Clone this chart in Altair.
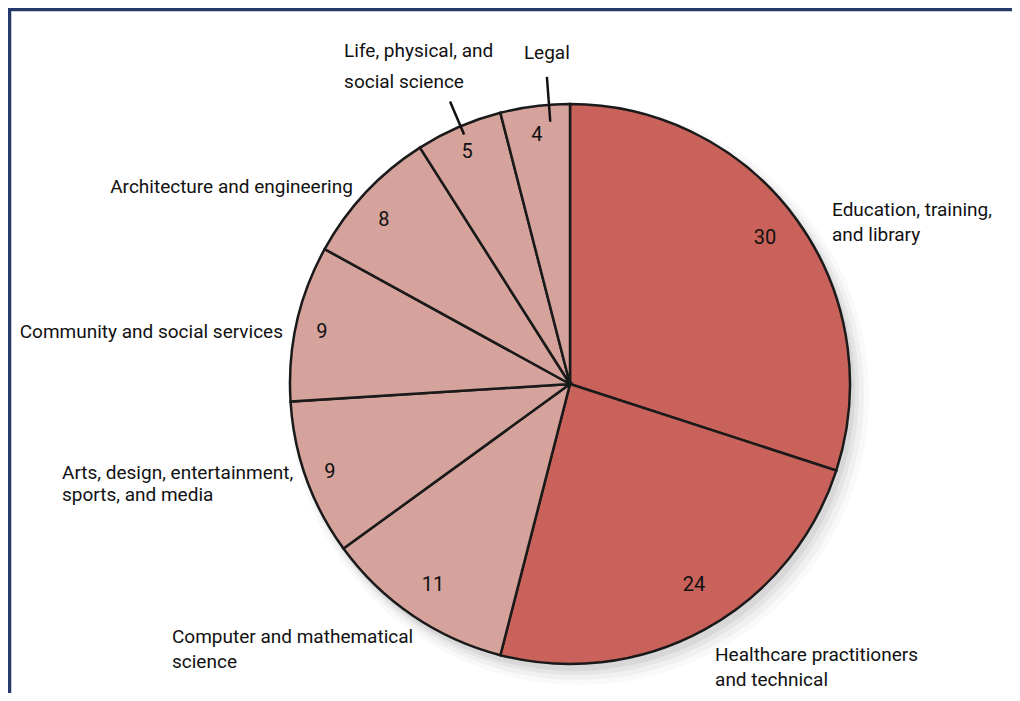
import math
import altair as alt
import pandas as pd

# ---------------- data ----------------
categories = [
    "Education, training, and library",
    "Healthcare practitioners and technical",
    "Computer and mathematical science",
    "Arts, design, entertainment, sports, and media",
    "Community and social services",
    "Architecture and engineering",
    "Life, physical, and social science",
    "Legal",
]
label_lines = [
    ["Education, training,", "and library"],
    ["Healthcare practitioners", "and technical"],
    ["Computer and mathematical", "science"],
    ["Arts, design, entertainment,", "sports, and media"],
    ["Community and social services"],
    ["Architecture and engineering"],
    ["Life, physical, and", "social science"],
    ["Legal"],
]
values = [30, 24, 11, 9, 9, 8, 5, 4]

# ---------------- styles / layout ----------------
DARK = "#c8625a"
LIGHT = "#d5a39b"
slice_colors = [DARK, DARK, LIGHT, LIGHT, LIGHT, LIGHT, LIGHT, LIGHT]
FONT = "Roboto, Liberation Sans Narrow, sans-serif"
FS = 19
NUM_FS = 20
W, H = 1004, 685
CX, CY = 562, 376          # pie centre (chart coords)
R = 280                    # pie radius

# value labels: radius, angular offset from slice middle (deg)
num_layout = [
    (243.6, -0.8), (236.0, -2.9), (243.0, 0.1), (255.6, -0.3),
    (253.4, -0.8), (248.0, -1.8), (253.8, -0.5), (251.2, -0.35),
]
# category labels: radius, angular offset from slice middle (deg), align, line height
label_layout = [
    (307.8, 4.35, "left", 25),
    (318.4, 1.7, "left", 25),
    (478.4, 22.1, "left", 25),
    (517.7, 8.7, "left", 22),
    (291.7, -2.3, "right", 25),
    (293.1, -1.0, "right", 25),
    (390.0, -12.0, "left", 31),
    (331.8, 3.2, "center", 25),
]
# leader lines: slice index, inner radius, outer radius, angular offset
leaders = [(6, 271, 307, 0.4), (7, 263, 308, 2.9)]

total = sum(values)
mids = []
acc = 0
for v in values:
    mids.append(360.0 * (acc + v / 2) / total)
    acc += v


def polar(r, deg):
    a = math.radians(deg)
    return CX + r * math.sin(a), CY - r * math.cos(a)


rows = []
for i, (c, v) in enumerate(zip(categories, values)):
    nr, ndt = num_layout[i]
    nx, ny = polar(nr, mids[i] + ndt)
    lr, dth, _, _ = label_layout[i]
    lx, ly = polar(lr, mids[i] + dth)
    rows.append(dict(category=c, value=v, order=i, nx=nx, ny=ny, lx=lx, ly=ly))
df = pd.DataFrame(rows)

lead_rows = []
for idx, r1, r2, dth in leaders:
    x1, y1 = polar(r1, mids[idx] + dth)
    x2, y2 = polar(r2, mids[idx] + dth)
    lead_rows.append(dict(x=x1, y=y1, x2=x2, y2=y2))
lead_df = pd.DataFrame(lead_rows)

one = pd.DataFrame({"k": [0]})

# ---------------- layers ----------------
shadows = []
for rr, op, off in [(290, 0.035, 9), (286, 0.05, 8), (283, 0.07, 6), (281, 0.09, 4)]:
    shadows.append(
        alt.Chart(one)
        .mark_arc(theta=0, theta2=2 * math.pi, radius=rr, color="#555555", opacity=op)
        .encode(x=alt.value(CX + off), y=alt.value(CY + off + 2))
    )

arcs = (
    alt.Chart(df)
    .mark_arc(radius=R, stroke="#1a1a1a", strokeWidth=2.5)
    .encode(
        theta=alt.Theta("value:Q", stack=True),
        order=alt.Order("order:Q"),
        color=alt.Color(
            "category:N",
            scale=alt.Scale(domain=categories, range=slice_colors),
            legend=None,
        ),
        x=alt.value(CX),
        y=alt.value(CY),
    )
)

numbers = (
    alt.Chart(df)
    .mark_text(font=FONT, fontSize=NUM_FS, color="#111111", align="center", baseline="middle")
    .encode(
        x=alt.X("nx:Q", scale=None),
        y=alt.Y("ny:Q", scale=None),
        text=alt.Text("value:Q"),
    )
)

labels = []
for i, lines in enumerate(label_lines):
    _, _, align, lh = label_layout[i]
    labels.append(
        alt.Chart(df)
        .transform_filter(alt.datum.order == i)
        .mark_text(
            text=lines,
            font=FONT,
            fontSize=FS,
            color="#111111",
            align=align,
            baseline="middle",
            lineHeight=lh,
            dy=-(len(lines) - 1) * lh / 2,
        )
        .encode(x=alt.X("lx:Q", scale=None), y=alt.Y("ly:Q", scale=None))
    )

leader_layer = (
    alt.Chart(lead_df)
    .mark_rule(color="#111111", strokeWidth=2.5)
    .encode(
        x=alt.X("x:Q", scale=None),
        y=alt.Y("y:Q", scale=None),
        x2="x2:Q",
        y2="y2:Q",
    )
)

frame_top = alt.Chart(one).mark_rule(color="#233a6a", strokeWidth=4.5).encode(
    x=alt.value(0), x2=alt.value(W), y=alt.value(1)
)
frame_left = alt.Chart(one).mark_rule(color="#233a6a", strokeWidth=4.5).encode(
    x=alt.value(1), y=alt.value(0), y2=alt.value(H)
)

chart = (
    alt.layer(*shadows, arcs, numbers, *labels, leader_layer, frame_top, frame_left)
    .properties(width=W, height=H, autosize="none", padding=0)
    .configure_view(stroke=None)
)

chart.save("out.html", embed_options={"renderer": "svg", "actions": False})
